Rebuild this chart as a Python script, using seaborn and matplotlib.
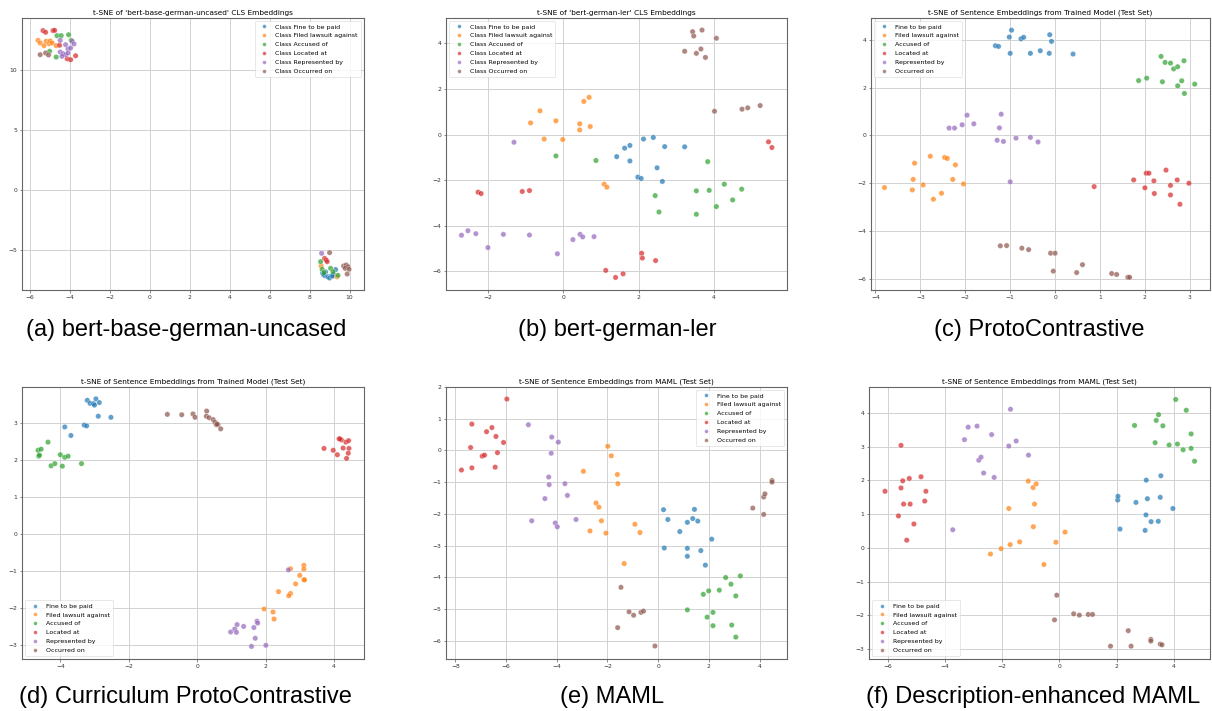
import matplotlib
matplotlib.use("Agg")
from matplotlib import pyplot as plt
import pandas as pd
import seaborn as sns

CLASSES = [
    "Fine to be paid",
    "Filed lawsuit against",
    "Accused of",
    "Located at",
    "Represented by",
    "Occurred on",
]

# (a) bert-base-german-uncased
a_fine = [(8.65, -6.9), (8.75, -7.1), (8.9, -7.2), (9.0, -7.3), (9.1, -7.1), (9.2, -7.0),
          (9.3, -6.6), (8.8, -6.8), (9.15, -7.15), (8.7, -7.0)]
a_filed = [(-5.58, 12.47), (-5.47, 12.25), (-5.28, 12.03), (-5.17, 12.39), (-5.03, 12.19),
           (-4.97, 12.42), (-4.87, 12.25), (-4.67, 12.03), (8.58, -6.3), (9.37, -7.2)]
a_accused = [(-4.63, 12.86), (-4.42, 12.86), (-4.05, 12.94), (-5.0, 11.56), (-4.67, 11.08),
             (-3.92, 12.47), (8.55, -5.94), (8.63, -6.58), (9.05, -6.5), (9.17, -6.78),
             (9.42, -7.08), (8.72, -6.85)]
a_located = [(-5.33, 13.28), (-5.2, 13.14), (-4.83, 13.28), (-4.75, 13.3), (-4.5, 12.06),
             (-4.12, 10.94), (-3.95, 10.86), (-3.7, 11.19), (8.75, -5.67), (8.83, -5.8),
             (8.88, -5.94)]
a_repr = [(-4.47, 12.47), (-4.2, 12.11), (-4.08, 11.75), (-3.95, 11.83), (-3.87, 12.39),
          (-3.78, 12.17), (-4.47, 11.5), (-4.33, 11.36), (-4.2, 11.28), (-4.08, 11.42),
          (-4.38, 11.14), (8.6, -5.25)]
a_occurred = [(-5.47, 11.28), (-5.2, 11.42), (-5.05, 11.25), (9.0, -5.19), (9.7, -6.3),
              (9.83, -6.22), (9.92, -6.36), (9.78, -6.5), (9.97, -6.58), (9.88, -6.97)]

# (b) bert-german-ler
b_fine = [(1.42, -0.97), (1.63, -0.6), (1.77, -0.48), (1.77, -1.16), (2.13, -0.2), (2.39, -0.13),
          (2.69, -0.53), (3.22, -0.54), (1.98, -1.87), (2.07, -1.93), (2.49, -1.46), (2.63, -2.06)]
b_filed = [(-0.61, 1.04), (-0.86, 0.51), (-0.19, 0.6), (-0.5, -0.2), (-0.01, -0.22), (0.44, 0.47),
           (0.44, 0.2), (0.55, 1.45), (0.69, 1.63), (0.72, 0.35), (1.09, -2.18), (1.16, -2.31)]
b_accused = [(-0.19, -0.94), (0.87, -1.14), (2.44, -2.68), (2.54, -3.4), (3.53, -2.47),
             (3.83, -1.19), (3.87, -2.45), (3.53, -3.5), (4.27, -2.18), (4.49, -2.87),
             (4.06, -3.16), (4.73, -2.4)]
b_located = [(-2.25, -2.53), (-2.17, -2.59), (-1.08, -2.5), (-0.89, -2.46), (1.13, -5.96),
             (1.39, -6.27), (1.59, -6.11), (2.08, -5.21), (2.1, -5.42), (2.45, -5.53),
             (5.44, -0.32), (5.53, -0.57)]
b_repr = [(-1.3, -0.34), (-2.69, -4.42), (-2.52, -4.22), (-2.31, -4.35), (-1.99, -4.96),
          (-1.58, -4.38), (-0.89, -4.41), (-0.15, -5.23), (0.26, -4.61), (0.45, -4.38),
          (0.52, -4.49), (0.82, -4.48)]
b_occurred = [(3.43, 4.51), (3.46, 4.32), (3.68, 4.58), (4.06, 4.22), (3.22, 3.65), (3.53, 3.56),
              (3.65, 3.75), (3.77, 3.38), (4.01, 1.02), (4.74, 1.11), (4.89, 1.17), (5.22, 1.27)]

# (c) ProtoContrastive
c_fine = [(-1.33, 3.76), (-1.26, 3.73), (-1.02, 4.12), (-0.97, 4.41), (-1.0, 3.44), (-0.76, 4.05),
          (-0.7, 4.11), (-0.55, 3.44), (-0.33, 3.55), (-0.12, 4.22), (-0.08, 3.94), (-0.13, 3.44),
          (0.4, 3.41)]
c_filed = [(-3.8, -2.18), (-3.13, -1.16), (-3.16, -1.84), (-3.18, -2.28), (-2.94, -2.07),
           (-2.78, -0.87), (-2.71, -2.67), (-2.53, -2.42), (-2.46, -0.92), (-2.4, -0.96),
           (-2.22, -1.23), (-2.28, -1.84), (-2.04, -2.03)]
c_accused = [(2.36, 3.31), (2.45, 3.06), (2.57, 3.03), (2.64, 2.79), (2.73, 2.88), (2.87, 3.13),
             (1.86, 2.3), (2.04, 2.4), (2.39, 2.25), (2.73, 2.08), (2.82, 2.29), (2.88, 1.76),
             (3.11, 2.15)]
c_located = [(0.87, -2.14), (1.75, -1.86), (2.0, -2.19), (2.03, -1.58), (2.09, -1.58), (2.2, -1.9),
             (2.21, -2.43), (2.47, -1.45), (2.57, -2.09), (2.57, -2.49), (2.72, -1.86),
             (2.78, -2.88), (2.98, -2.0)]
c_repr = [(-2.36, 0.31), (-2.24, 0.31), (-2.07, 0.45), (-1.96, 0.85), (-1.81, 0.49), (-1.24, 0.32),
          (-1.2, 0.89), (-1.29, -0.2), (-1.15, -0.25), (-0.87, -0.11), (-0.55, -0.08),
          (-0.38, -0.27), (-1.0, -1.94)]
c_occurred = [(-1.22, -4.62), (-1.08, -4.61), (-0.74, -4.72), (-0.59, -4.78), (-0.1, -4.93),
              (0.0, -4.93), (-0.04, -5.68), (0.61, -5.41), (0.48, -5.74), (1.26, -5.78),
              (1.37, -5.82), (1.62, -5.94), (1.66, -5.94)]

# (d) Curriculum ProtoContrastive
d_fine = [(-3.87, 2.89), (-3.69, 2.66), (-3.3, 2.94), (-3.23, 2.92), (-3.21, 3.61), (-3.13, 3.53),
          (-3.03, 3.52), (-3.0, 3.48), (-2.96, 3.65), (-2.86, 3.55), (-2.89, 3.18), (-2.52, 3.15)]
d_filed = [(2.73, -0.94), (3.12, -0.85), (3.12, -0.95), (3.0, -1.12), (3.12, -1.24), (2.88, -1.35),
           (2.38, -1.56), (2.73, -1.61), (2.68, -1.67), (1.96, -2.03), (2.22, -2.11),
           (2.25, -2.3), (3.14, -1.24)]
d_accused = [(-4.65, 2.26), (-4.63, 2.1), (-4.61, 2.13), (-4.56, 2.29), (-4.36, 2.48),
             (-4.27, 1.84), (-4.16, 1.9), (-4.0, 2.14), (-3.94, 1.83), (-3.87, 2.07),
             (-3.77, 2.1), (-3.38, 1.9)]
d_located = [(3.71, 2.31), (3.98, 2.26), (4.1, 2.14), (4.15, 2.57), (4.22, 2.54), (4.27, 2.32),
             (4.35, 2.48), (4.43, 2.52), (4.44, 2.31), (4.42, 2.18), (4.37, 2.04), (4.17, 2.57)]
d_repr = [(2.67, -0.97), (0.98, -2.65), (1.1, -2.57), (1.15, -2.66), (1.17, -2.45), (1.36, -2.5),
          (1.66, -2.53), (1.75, -2.36), (1.77, -2.41), (1.7, -2.82), (1.59, -3.04), (2.01, -3.01)]
d_occurred = [(-0.87, 3.23), (-0.45, 3.22), (-0.12, 3.24), (-0.06, 3.15), (0.28, 3.32),
              (0.27, 3.18), (0.35, 3.14), (0.47, 3.09), (0.52, 3.02), (0.56, 2.95),
              (0.61, 2.95), (0.69, 2.84), (0.58, 2.97)]

# (e) MAML
e_fine = [(0.21, -1.87), (0.24, -3.08), (0.38, -2.18), (0.85, -2.56), (1.15, -2.27), (1.15, -3.09),
          (1.15, -3.34), (1.36, -2.15), (1.43, -1.86), (1.56, -2.23), (1.68, -3.16),
          (1.86, -3.62), (2.11, -2.8)]
e_filed = [(-2.95, -0.66), (-2.69, -2.54), (-2.45, -1.66), (-2.34, -1.79), (-2.24, -2.22),
           (-2.06, -2.61), (-1.99, 0.13), (-1.85, -0.17), (-1.61, -0.76), (-1.59, -1.05),
           (-1.34, -3.57), (-0.92, -2.33), (-0.72, -2.59)]
e_accused = [(1.15, -5.03), (1.78, -4.54), (1.93, -5.26), (1.99, -4.43), (2.16, -5.11),
             (2.16, -5.53), (2.41, -4.41), (2.66, -4.01), (2.87, -4.22), (2.9, -5.51),
             (3.06, -4.59), (3.06, -5.89), (3.24, -3.96)]
e_located = [(-7.76, -0.62), (-7.4, 0.09), (-7.35, 0.83), (-7.35, -0.55), (-6.94, -0.18),
             (-6.85, -0.15), (-6.77, 0.59), (-6.56, 0.72), (-6.4, 0.44), (-6.43, -0.53),
             (-6.34, -0.07), (-6.1, 0.25), (-5.97, 1.62)]
e_repr = [(-5.12, 0.81), (-4.99, -2.22), (-4.47, -1.52), (-4.32, -0.84), (-4.3, -1.08),
          (-4.22, -0.09), (-4.2, 0.42), (-4.06, -2.29), (-3.98, -2.41), (-3.94, 0.26),
          (-3.68, -1.05), (-3.58, -1.42), (-3.24, -2.18)]
e_occurred = [(-1.47, -4.32), (-1.6, -5.59), (-1.15, -5.09), (-0.97, -5.2), (-0.68, -5.11),
              (-0.58, -5.07), (-0.13, -6.17), (3.73, -1.82), (4.16, -2.02), (4.16, -1.47),
              (4.21, -1.37), (4.49, -0.95), (4.49, -1.0)]

# (f) Description-enhanced MAML
f_fine = [(2.04, 1.42), (2.05, 1.53), (2.12, 0.56), (2.68, 1.35), (3.0, 0.52), (3.03, 0.98),
          (3.04, 2.01), (3.08, 1.46), (3.21, 0.78), (3.46, 0.79), (3.53, 1.5), (3.55, 2.14),
          (3.97, 1.17)]
f_filed = [(-2.41, -0.18), (-2.04, -0.02), (-1.77, 1.17), (-1.72, 0.1), (-1.39, 0.18),
           (-1.09, 1.98), (-0.92, 1.79), (-0.81, 1.9), (-0.87, 1.3), (-0.91, 0.63),
           (-0.54, -0.49), (-0.12, 0.17), (0.2, 0.47)]
f_accused = [(2.63, 3.63), (3.35, 3.12), (3.39, 3.78), (3.47, 3.95), (3.62, 3.62), (3.84, 3.05),
             (4.07, 4.4), (4.13, 3.08), (4.33, 2.91), (4.44, 4.08), (4.61, 3.38), (4.61, 2.95),
             (4.73, 2.57)]
f_located = [(-6.1, 1.68), (-5.63, 0.95), (-5.54, 3.04), (-5.54, 1.78), (-5.48, 1.99),
             (-5.45, 1.3), (-5.34, 0.23), (-5.25, 2.06), (-5.22, 1.3), (-5.09, 0.71),
             (-4.84, 2.11), (-4.71, 1.39), (-4.67, 1.68)]
f_repr = [(-3.73, 0.54), (-3.32, 3.21), (-3.19, 3.58), (-2.88, 3.61), (-2.82, 2.6), (-2.74, 2.69),
          (-2.65, 2.22), (-2.37, 3.36), (-2.28, 2.09), (-1.77, 3.02), (-1.71, 4.11),
          (-1.51, 3.17), (-1.08, 2.75)]
f_occurred = [(-0.09, -1.4), (-0.17, -2.13), (0.5, -1.95), (0.7, -1.99), (1.01, -1.97),
              (1.16, -1.97), (1.79, -2.91), (2.41, -2.45), (2.51, -2.91), (3.2, -2.71),
              (3.2, -2.76), (3.53, -2.85), (3.59, -2.87)]

TITLES = [
    "t-SNE of 'bert-base-german-uncased' CLS Embeddings",
    "t-SNE of 'bert-german-ler' CLS Embeddings",
    "t-SNE of Sentence Embeddings from Trained Model (Test Set)",
    "t-SNE of Sentence Embeddings from Trained Model (Test Set)",
    "t-SNE of Sentence Embeddings from MAML (Test Set)",
    "t-SNE of Sentence Embeddings from MAML (Test Set)",
]
CAPTIONS = [
    "(a) bert-base-german-uncased",
    "(b) bert-german-ler",
    "(c) ProtoContrastive",
    "(d) Curriculum ProtoContrastive",
    "(e) MAML",
    "(f) Description-enhanced MAML",
]
X_TICKS = [range(-6, 11, 2), range(-2, 5, 2), range(-4, 4), range(-4, 5, 2), range(-8, 5, 2), range(-6, 5, 2)]
Y_TICKS = [[-5, 0, 5, 10], range(-6, 5, 2), range(-6, 5, 2), range(-3, 4), range(-6, 3), range(-3, 5)]
X_LIMS = [(-6.38, 10.72), (-3.1, 5.93), (-4.1, 3.45), (-5.12, 4.88), (-8.37, 5.08), (-6.66, 5.27)]
Y_LIMS = [(-8.3, 14.33), (-6.82, 5.11), (-6.47, 4.92), (-3.38, 3.97), (-6.58, 2.0), (-3.29, 4.77)]
LEGEND_LOC = ["upper right", "upper left", "upper left", "lower left", "upper right", "lower left"]
CLASS_PREFIX = [True, True, False, False, False, False]

panels = [
    [a_fine, a_filed, a_accused, a_located, a_repr, a_occurred],
    [b_fine, b_filed, b_accused, b_located, b_repr, b_occurred],
    [c_fine, c_filed, c_accused, c_located, c_repr, c_occurred],
    [d_fine, d_filed, d_accused, d_located, d_repr, d_occurred],
    [e_fine, e_filed, e_accused, e_located, e_repr, e_occurred],
    [f_fine, f_filed, f_accused, f_located, f_repr, f_occurred],
]

# axes boxes in pixels: left, top, right, bottom
BOXES = [(22, 18, 364, 290), (446, 18, 787, 290), (871, 18, 1210, 290),
         (22, 387, 364, 659), (446, 387, 787, 659), (869, 387, 1210, 659)]
CAPTION_POS = [(186, 330), (617, 330), (1039, 330), (185, 697), (612, 697), (1033, 697)]

W, H = 1212, 711
fig = plt.figure(figsize=(W / 100, H / 100), dpi=100)
palette = sns.color_palette("tab10", 6)

for i, groups in enumerate(panels):
    l, t, r, b = BOXES[i]
    ax = fig.add_axes([l / W, 1 - b / H, (r - l) / W, (b - t) / H])
    labels = [("Class " + c) if CLASS_PREFIX[i] else c for c in CLASSES]
    rows = []
    for lab, pts in zip(labels, groups):
        for x, y in pts:
            rows.append({"x": x, "y": y, "label": lab})
    df = pd.DataFrame(rows)
    sns.scatterplot(data=df, x="x", y="y", hue="label", hue_order=labels, palette=palette,
                    alpha=0.7, s=15, linewidth=0.3, edgecolor="white", ax=ax, zorder=3)
    ax.set_xlim(*X_LIMS[i])
    ax.set_ylim(*Y_LIMS[i])
    ax.set_xticks(list(X_TICKS[i]))
    ax.set_yticks(list(Y_TICKS[i]))
    ax.set_xlabel("")
    ax.set_ylabel("")
    ax.set_title(TITLES[i], fontsize=5.35, pad=2.5)
    ax.grid(True, color="#d2d2d2", linewidth=0.7, zorder=0)
    ax.set_axisbelow(True)
    ax.tick_params(labelsize=4.3, length=1.8, width=0.4, pad=1.5, colors="#333333")
    for sp in ax.spines.values():
        sp.set_color("#666666")
        sp.set_linewidth(0.8)
    leg = ax.legend(loc=LEGEND_LOC[i], fontsize=4.5, markerscale=0.7, handletextpad=0.8,
                    borderpad=0.5, labelspacing=0.55, framealpha=0.8)
    leg.get_frame().set_linewidth(0.4)
    cx, cy = CAPTION_POS[i]
    fig.text(cx / W, 1 - cy / H, CAPTIONS[i], ha="center", va="center",
             fontsize=17, family="Liberation Sans")

fig.savefig("out.png", dpi=100)
